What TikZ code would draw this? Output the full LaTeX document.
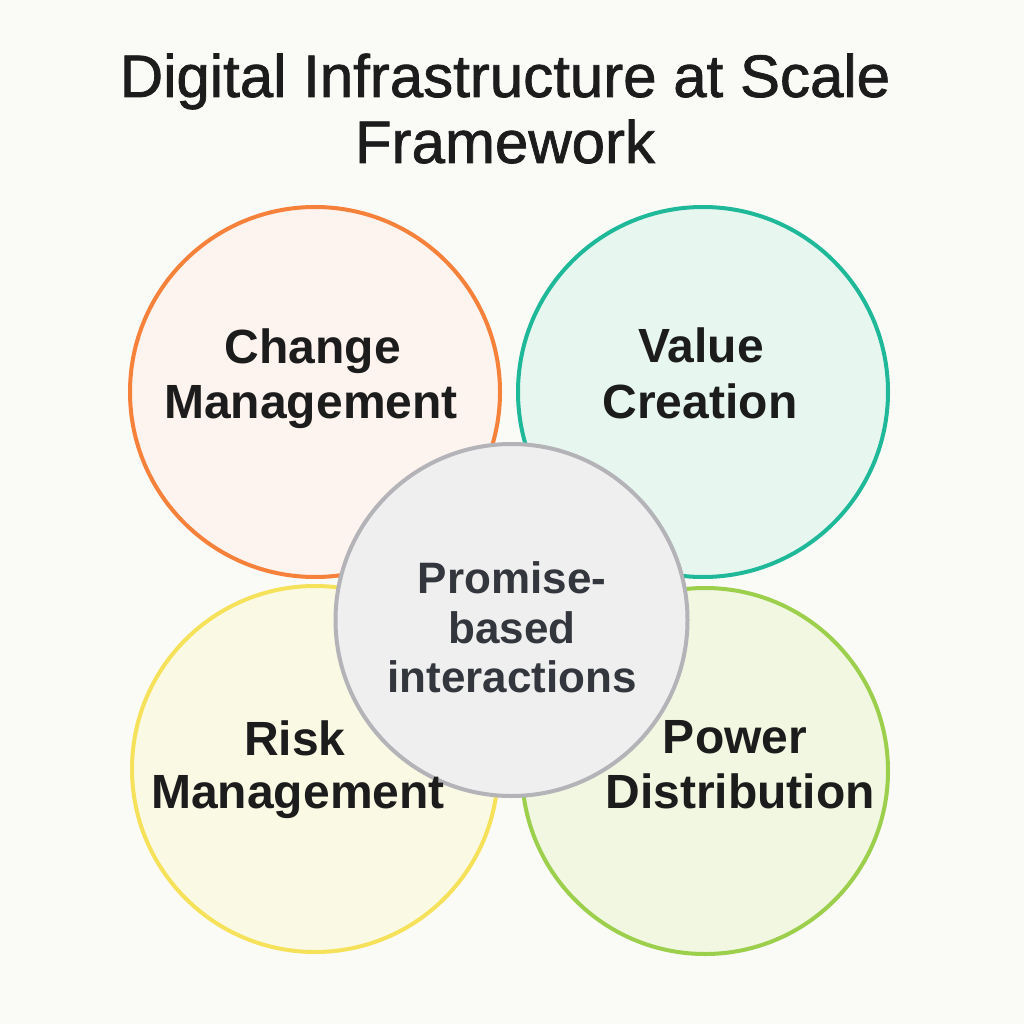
\documentclass[tikz,border=0pt]{standalone}
\usepackage{fontspec}
\setmainfont{Liberation Sans}
\newfontfamily\ttlfont{Liberation Sans}[BoldFont={Liberation Sans},BoldFeatures={FakeBold=1.2}]
\definecolor{bg}{HTML}{FAFAF7}
\definecolor{orS}{HTML}{F5813A}
\definecolor{orF}{HTML}{FDF3EF}
\definecolor{teS}{HTML}{1FB99A}
\definecolor{teF}{HTML}{E7F7F0}
\definecolor{yeS}{HTML}{F6E25A}
\definecolor{yeF}{HTML}{FAF9E4}
\definecolor{grS}{HTML}{9CCF4C}
\definecolor{grF}{HTML}{F1F7E1}
\definecolor{gyS}{HTML}{B3B3B8}
\definecolor{gyF}{HTML}{EFEFF0}
\definecolor{ink}{HTML}{1C1C1C}
\definecolor{inkc}{HTML}{33363C}
\begin{document}
\begin{tikzpicture}[x=1pt,y=-1pt,
  bubble/.style={circle,line width=4pt,inner sep=0pt},
  ttl/.style={anchor=base,inner sep=0pt,text=ink,font=\ttlfont\fontsize{60}{60}\selectfont\bfseries},
  lbl/.style={anchor=base,inner sep=0pt,text=ink,font=\fontsize{48}{48}\selectfont\bfseries},
  clbl/.style={anchor=base,inner sep=0pt,text=inkc,font=\fontsize{44}{44}\selectfont\bfseries}]
\fill[bg] (0,0) rectangle (1024,1024);
\useasboundingbox (0,0) rectangle (1024,1024);
\node[ttl] (t1) at (505,97) {Digital Infrastructure at Scale};
\node[ttl] (t2) at (505,163) {Framework};
\node[bubble,draw=orS,fill=orF,minimum size=370pt] (cm) at (315,392) {};
\node[bubble,draw=teS,fill=teF,minimum size=370pt] (vc) at (703,392) {};
\node[bubble,draw=yeS,fill=yeF,minimum size=366pt] (rm) at (315,769) {};
\node[bubble,draw=grS,fill=grF,minimum size=366pt] (pd) at (705,771) {};
\node[bubble,draw=gyS,fill=gyF,minimum size=352pt] (pc) at (511.5,620) {};
\node[lbl] (cm1) at (313,363) {Change};
\node[lbl] (cm2) at (311,418) {Management};
\node[lbl] (vc1) at (701,362) {Value};
\node[lbl] (vc2) at (700,418) {Creation};
\node[lbl] (rm1) at (295,755) {Risk};
\node[lbl] (rm2) at (298,808) {Management};
\node[lbl] (pd1) at (735,753) {Power};
\node[lbl] (pd2) at (740,808) {Distribution};
\node[clbl] (pc1) at (512,593) {Promise-};
\node[clbl] (pc2) at (512,643) {based};
\node[clbl] (pc3) at (512,692) {interactions};
\end{tikzpicture}
\end{document}
